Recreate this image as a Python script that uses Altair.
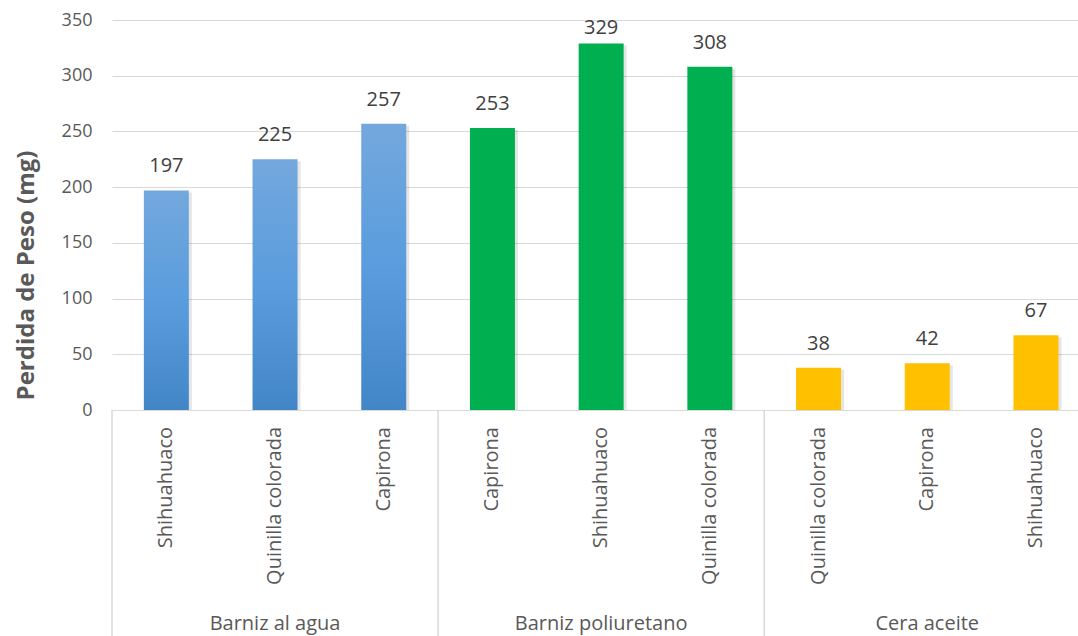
import altair as alt
import pandas as pd

# Weight loss (mg) per finish and wood species
acabados = ["Barniz al agua", "Barniz al agua", "Barniz al agua",
            "Barniz poliuretano", "Barniz poliuretano", "Barniz poliuretano",
            "Cera aceite", "Cera aceite", "Cera aceite"]
especies = ["Shihuahuaco", "Quinilla colorada", "Capirona",
            "Capirona", "Shihuahuaco", "Quinilla colorada",
            "Quinilla colorada", "Capirona", "Shihuahuaco"]
perdida = [197, 225, 257, 253, 329, 308, 38, 42, 67]
y_ticks = [0, 50, 100, 150, 200, 250, 300, 350]

FONT = "Open Sans"
TXT = "#595959"
GRID = "#D9D9D9"

df = pd.DataFrame({
    "acabado": acabados,
    "especie": especies,
    "perdida": perdida,
    "pos": [i + 0.5 for i in range(len(perdida))],
})
grupos = (df.groupby("acabado", sort=False)["pos"]
          .agg(["min", "mean"]).reset_index())
grupos["inicio"] = grupos["min"] - 0.5

# slot width ~108.7 px, view 966 px wide -> last group runs past the edge
x_scale = alt.Scale(domain=[0, 966 / 108.7], nice=False, zero=False, padding=0)
y_scale = alt.Scale(domain=[-226 * 350 / 390, 350], nice=False, zero=False,
                    padding=0)

x_enc = alt.X("pos:Q", scale=x_scale, axis=None)

y_axis = alt.Axis(
    values=y_ticks, grid=True, gridColor=GRID, gridWidth=1,
    domain=False, ticks=False, labelPadding=20,
    labelFont=FONT, labelFontSize=18, labelColor=TXT,
    title="Perdida de Peso (mg)", titleFont=FONT, titleFontSize=24,
    titleFontWeight="bold", titleColor=TXT, titleAngle=270,
    titleX=-79, titleY=255, titleAlign="center", titleBaseline="alphabetic",
)

base = alt.Chart(df)

sombra = base.mark_bar(size=47, color="#000000", opacity=0.10,
                       xOffset=2, yOffset=2).encode(
    x=x_enc,
    y=alt.Y("perdida:Q", scale=y_scale, axis=y_axis),
    y2=alt.datum(0),
)

azul = alt.Gradient(
    gradient="linear", x1=0, y1=0, x2=0, y2=1,
    stops=[alt.GradientStop(color="#73A8DD", offset=0),
           alt.GradientStop(color="#5A9CDD", offset=0.5),
           alt.GradientStop(color="#4386C7", offset=1)],
)

barras_azul = base.transform_filter(
    alt.datum.acabado == "Barniz al agua"
).mark_bar(size=45, color=azul).encode(
    x=x_enc, y=alt.Y("perdida:Q", scale=y_scale), y2=alt.datum(0)
)

barras_otras = base.transform_filter(
    alt.datum.acabado != "Barniz al agua"
).mark_bar(size=45).encode(
    x=x_enc,
    y=alt.Y("perdida:Q", scale=y_scale),
    y2=alt.datum(0),
    color=alt.Color("acabado:N", legend=None,
                    scale=alt.Scale(domain=["Barniz poliuretano", "Cera aceite"],
                                    range=["#00B050", "#FFC000"])),
)

# value labels sit above each bar, kept inside the top of the chart area
valores = base.transform_calculate(
    pos_etiqueta="min(datum.perdida, 321)"
).mark_text(font=FONT, fontSize=20, color="#404040",
            baseline="alphabetic", dy=-18).encode(
    x=x_enc, y=alt.Y("pos_etiqueta:Q", scale=y_scale),
    text=alt.Text("perdida:Q", format="d"),
)

nombres = base.mark_text(font=FONT, fontSize=20, color=TXT, angle=270,
                         align="right", baseline="middle").encode(
    x=x_enc, y=alt.value(407), text="especie:N",
)

separadores = alt.Chart(grupos).mark_rule(color=GRID, strokeWidth=1.5).encode(
    x=alt.X("inicio:Q", scale=x_scale), y=alt.value(390), y2=alt.value(616),
)

etiquetas_grupo = alt.Chart(grupos).mark_text(
    font=FONT, fontSize=20, color=TXT, baseline="alphabetic"
).encode(
    x=alt.X("mean:Q", scale=x_scale), y=alt.value(610), text="acabado:N",
)

chart = alt.layer(
    sombra, barras_azul, barras_otras, valores, nombres,
    separadores, etiquetas_grupo,
).properties(
    width=966, height=616,
    autosize=alt.AutoSizeParams(type="none"),
    padding={"left": 112, "top": 20, "right": 0, "bottom": 0},
    background="white",
).configure_view(stroke=None)

chart.save("out.html", embed_options={"renderer": "svg", "actions": False})
